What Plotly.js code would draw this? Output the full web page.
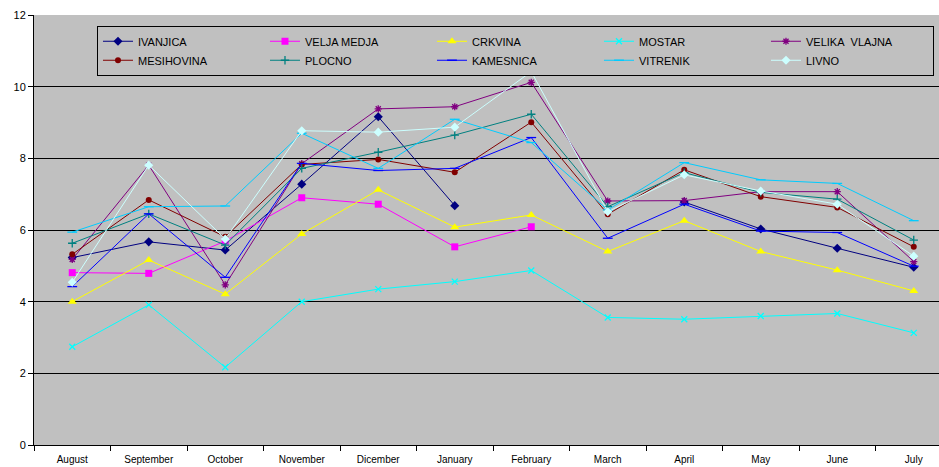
<!DOCTYPE html>
<html><head><meta charset="utf-8">
<script src="https://cdn.plot.ly/plotly-3.0.1.min.js"></script>
<style>html,body{margin:0;padding:0;background:#fff}#chart{width:939px;height:467px}</style>
</head><body><div id="chart"></div>
<script>
const months = ["August","September","October","November","Dicember","January","February","March","April","May","June","July"];
const seriesNames = ["IVANJICA","VELJA MEDJA","CRKVINA","MOSTAR","VELIKA\u00a0 VLAJNA","MESIHOVINA","PLOCNO","KAMESNICA","VITRENIK","LIVNO"];
const ivanjica     = [5.23, 5.67, 5.44, 7.28, 9.16, 6.68, null, null, 6.78, 6.03, 5.49, 4.96];
const veljaMedja   = [4.81, 4.79, 5.69, 6.90, 6.72, 5.53, 6.09, null, null, null, null, null];
const crkvina      = [4.00, 5.16, 4.21, 5.89, 7.12, 6.08, 6.42, 5.40, 6.26, 5.40, 4.88, 4.30];
const mostar       = [2.74, 3.91, 2.17, 4.00, 4.35, 4.56, 4.87, 3.56, 3.51, 3.60, 3.67, 3.13];
const velikaVlajna = [5.18, 7.81, 4.47, 7.85, 9.38, 9.44, 10.12, 6.81, 6.82, 7.07, 7.07, 5.12];
const mesihovina   = [5.32, 6.84, 5.81, 7.83, 7.97, 7.61, 9.01, 6.44, 7.68, 6.93, 6.63, 5.53];
const plocno       = [5.63, 6.45, 5.58, 7.72, 8.17, 8.65, 9.23, 6.65, 7.60, 7.05, 6.86, 5.72];
const kamesnica    = [4.42, 6.45, 4.68, 7.86, 7.66, 7.72, 8.58, 5.77, 6.72, 5.97, 5.93, 4.99];
const vitrenik     = [5.94, 6.65, 6.67, 8.70, 7.72, 9.09, 8.44, 6.56, 7.88, 7.40, 7.30, 6.26];
const livno        = [4.54, 7.81, 5.75, 8.77, 8.73, 8.87, 10.42, 6.51, 7.54, 7.09, 6.72, 5.27];
const yTicks = [0, 2, 4, 6, 8, 10, 12];

const values = [ivanjica, veljaMedja, crkvina, mostar, velikaVlajna, mesihovina, plocno, kamesnica, vitrenik, livno];
const colors = ["#000080","#FF00FF","#FFFF00","#00FFFF","#800080","#800000","#008080","#0000FF","#00CCFF","#CCFFFF"];
const symbols = ["diamond","square","triangle-up","x-thin-open","asterisk-open","circle","cross-thin-open","line-ew-open","line-ew-open","diamond"];
const sizes = [7,7,8,6,6,6,6,7,7,7];

const traces = values.map((v, i) => ({
  type: "scatter", mode: "lines+markers", name: seriesNames[i],
  x: months, y: v, connectgaps: false,
  line: {color: colors[i], width: 1},
  marker: {symbol: symbols[i], size: sizes[i], color: colors[i], line: {color: colors[i], width: (symbols[i].indexOf("open")>=0 ? 1.3 : 0)}}
}));

const layout = {
  width: 939, height: 467,
  margin: {l: 34, r: 0, t: 15, b: 22},
  paper_bgcolor: "#FFFFFF", plot_bgcolor: "#C0C0C0",
  font: {family: "Liberation Sans, Arial, sans-serif", size: 11, color: "#000"},
  showlegend: true,
  legend: {
    orientation: "h", x: 0.0696, xanchor: "left", y: 0.975, yanchor: "top",
    bgcolor: "#C0C0C0", bordercolor: "#000", borderwidth: 1,
    entrywidth: 122, entrywidthmode: "pixels",
    font: {size: 11, family: "Liberation Sans, Arial, sans-serif"},
    traceorder: "normal"
  },
  xaxis: {
    type: "category", categoryorder: "array", categoryarray: months,
    range: [-0.5, 11.33], showgrid: false, zeroline: false,
    showline: true, linecolor: "#000", linewidth: 1,
    ticks: "outside", tickson: "boundaries", ticklen: 5, tickcolor: "#000",
    ticklabelstandoff: 5,
    tickfont: {size: 10}
  },
  yaxis: {
    range: [0, 12], tickvals: yTicks, ticktext: yTicks.map(String),
    showgrid: true, gridcolor: "#000", gridwidth: 1, zeroline: false,
    showline: true, linecolor: "#000", linewidth: 1,
    ticks: "outside", ticklen: 5, tickcolor: "#000",
    tickfont: {size: 11}
  }
};
Plotly.newPlot("chart", traces, layout, {displayModeBar: false, staticPlot: true});
</script>
</body></html>
